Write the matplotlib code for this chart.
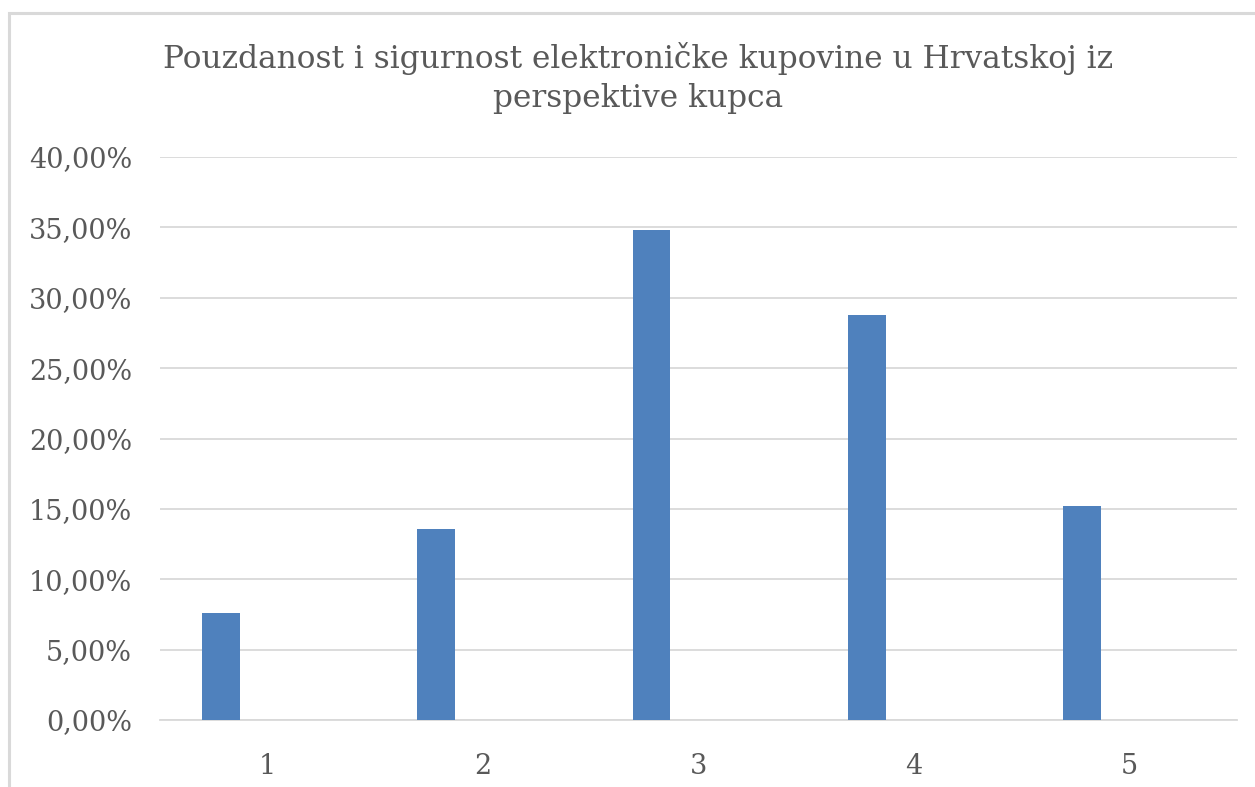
import matplotlib
matplotlib.use("Agg")
import matplotlib.pyplot as plt
from matplotlib.patches import Rectangle
from matplotlib.ticker import FuncFormatter

categories = ["1", "2", "3", "4", "5"]
values = [0.076, 0.136, 0.348, 0.288, 0.152]
title = "Pouzdanost i sigurnost elektroničke kupovine u Hrvatskoj iz\nperspektive kupca"
yticks = [0.0, 0.05, 0.10, 0.15, 0.20, 0.25, 0.30, 0.35, 0.40]

W, H = 1255, 787
fig = plt.figure(figsize=(W / 100, H / 100), dpi=100)
fig.patch.set_facecolor("white")

# outer chart border (partially cropped in reference)
fig.patches.append(Rectangle((9 / W, -0.05), 1.2, (1 - 13 / H) + 0.05,
                             transform=fig.transFigure, fill=False,
                             edgecolor="#d9d9d9", linewidth=2.2))

ax = fig.add_axes([160 / W, 1 - 720 / H, (1237 - 160) / W, (720 - 157) / H])
x = list(range(1, len(categories) + 1))
offset = -0.218
ax.bar([xi + offset for xi in x], values, width=0.175, color="#4f81bd",
       zorder=3)
ax.set_xlim(0.5, len(categories) + 0.5)
ax.set_ylim(0, 0.4)
ax.set_yticks(yticks)
ax.yaxis.set_major_formatter(FuncFormatter(lambda v, p: f"{v*100:.2f}%".replace(".", ",")))
ax.set_xticks(x)
ax.set_xticklabels(categories)
ax.grid(axis="y", color="#d9d9d9", linewidth=1.3, zorder=0)
for s in ["top", "right", "left"]:
    ax.spines[s].set_visible(False)
ax.spines["bottom"].set_color("#d9d9d9")
ax.spines["bottom"].set_linewidth(1.3)
ax.tick_params(axis="both", length=0, labelsize=19.5, labelcolor="#595959")
ax.tick_params(axis="y", pad=20)
ax.tick_params(axis="x", pad=24)
for lbl in ax.get_xticklabels() + ax.get_yticklabels():
    lbl.set_family("DejaVu Serif")

fig.text(638 / W, 1 - 78 / H, title, ha="center", va="center",
         fontsize=22.5, color="#595959", family="DejaVu Serif", linespacing=1.3)

fig.savefig("out.png", dpi=100, facecolor="white")
